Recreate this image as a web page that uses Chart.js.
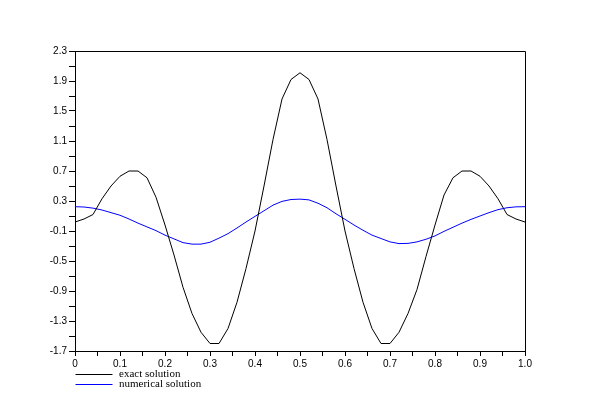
<!DOCTYPE html>
<html>
<head>
<meta charset="utf-8">
<script src="https://cdn.jsdelivr.net/npm/chart.js@4/dist/chart.umd.min.js"></script>
<style>
html,body{margin:0;padding:0;background:#fff;}
#wrap{width:600px;height:400px;}
</style>
</head>
<body>
<div id="wrap"><canvas id="c" width="600" height="400"></canvas></div>
<script>
const xValues = [0,0.02,0.04,0.06,0.08,0.10,0.12,0.14,0.16,0.18,0.20,0.22,0.24,0.26,0.28,0.30,0.32,0.34,0.36,0.38,0.40,0.42,0.44,0.46,0.48,0.50,
  0.52,0.54,0.56,0.58,0.60,0.62,0.64,0.66,0.68,0.70,0.72,0.74,0.76,0.78,0.80,0.82,0.84,0.86,0.88,0.90,0.92,0.94,0.96,0.98,1.00];
const exactValues = [0.02,0.06,0.12,0.33,0.50,0.63,0.70,0.70,0.61,0.35,-0.02,-0.42,-0.85,-1.20,-1.45,-1.60,-1.60,-1.40,-1.05,-0.60,-0.10,0.50,1.12,1.66,1.92,2.01,
  1.92,1.66,1.12,0.50,-0.10,-0.60,-1.05,-1.40,-1.60,-1.60,-1.45,-1.20,-0.88,-0.44,-0.02,0.38,0.61,0.70,0.70,0.63,0.50,0.33,0.12,0.06,0.02];
const numericalValues = [0.224,0.22,0.205,0.18,0.145,0.11,0.06,0.005,-0.045,-0.095,-0.155,-0.205,-0.255,-0.275,-0.275,-0.25,-0.195,-0.135,-0.06,0.02,0.095,0.17,0.245,0.295,0.32,0.325,
  0.315,0.27,0.21,0.13,0.056,-0.02,-0.09,-0.155,-0.20,-0.245,-0.268,-0.265,-0.245,-0.21,-0.165,-0.105,-0.05,0.005,0.055,0.10,0.145,0.185,0.21,0.222,0.224];
const seriesLabels = ['exact solution','numerical solution'];
const xTicks = [0,0.05,0.1,0.15,0.2,0.25,0.3,0.35,0.4,0.45,0.5,0.55,0.6,0.65,0.7,0.75,0.8,0.85,0.9,0.95,1.0];
const xTickLabels = ['0','','0.1','','0.2','','0.3','','0.4','','0.5','','0.6','','0.7','','0.8','','0.9','','1.0'];
const yTicks = [-1.7,-1.5,-1.3,-1.1,-0.9,-0.7,-0.5,-0.3,-0.1,0.1,0.3,0.5,0.7,0.9,1.1,1.3,1.5,1.7,1.9,2.1,2.3];
const yTickLabels = ['-1.7','','-1.3','','-0.9','','-0.5','','-0.1','','0.3','','0.7','','1.1','','1.5','','1.9','','2.3'];

const toPts = (xs, ys) => xs.map((x, i) => ({x: x, y: ys[i]}));

const framePlugin = {
  id: 'frame',
  afterDraw(chart) {
    const ctx = chart.ctx, a = chart.chartArea;
    ctx.save();
    ctx.strokeStyle = '#000';
    ctx.lineWidth = 1;
    ctx.beginPath();
    ctx.moveTo(Math.round(a.left) + 0.5, Math.round(a.top) + 0.5);
    ctx.lineTo(Math.round(a.right) + 0.5, Math.round(a.top) + 0.5);
    ctx.lineTo(Math.round(a.right) + 0.5, Math.round(a.bottom) + 0.5);
    ctx.stroke();
    // legend below the plot
    ctx.font = '11px "Liberation Serif"';
    ctx.textBaseline = 'middle';
    ctx.fillStyle = '#000';
    chart.data.datasets.forEach((ds, i) => {
      const y = Math.round(a.bottom) + 23.5 + i * 10;
      ctx.strokeStyle = ds.borderColor;
      ctx.beginPath();
      ctx.moveTo(Math.round(a.left) + 0.5, y);
      ctx.lineTo(Math.round(a.left) + 37.5, y);
      ctx.stroke();
      ctx.fillText(ds.label, Math.round(a.left) + 44, y);
    });
    ctx.restore();
  }
};

new Chart(document.getElementById('c'), {
  type: 'line',
  data: {
    datasets: [
      {label: seriesLabels[0], data: toPts(xValues, exactValues), borderColor: '#000000', borderWidth: 1, pointRadius: 0, tension: 0, fill: false},
      {label: seriesLabels[1], data: toPts(xValues, numericalValues), borderColor: '#0000ff', borderWidth: 1, pointRadius: 0, tension: 0, fill: false}
    ]
  },
  options: {
    responsive: false,
    animation: false,
    layout: {padding: {top: 51, right: 75, left: 0, bottom: 0}},
    plugins: {legend: {display: false}, tooltip: {enabled: false}},
    scales: {
      x: {
        type: 'linear', min: 0, max: 1,
        afterFit(s) { s.height = 49; },
        afterBuildTicks(s) { s.ticks = xTicks.map(v => ({value: v})); },
        grid: {display: true, drawOnChartArea: false, tickLength: 5, tickColor: '#000', color: '#000'},
        border: {display: true, color: '#000', width: 1},
        ticks: {
          autoSkip: false, maxRotation: 0, padding: 2, color: '#000',
          font: {family: '"Liberation Sans"', size: 10},
          callback: (v, i) => xTickLabels[i]
        }
      },
      y: {
        type: 'linear', min: -1.7, max: 2.3,
        afterFit(s) { s.width = 75; },
        afterBuildTicks(s) { s.ticks = yTicks.map(v => ({value: v})); },
        grid: {display: true, drawOnChartArea: false, tickLength: 6, tickColor: '#000', color: '#000'},
        border: {display: true, color: '#000', width: 1},
        ticks: {
          autoSkip: false, padding: 2, color: '#000',
          font: {family: '"Liberation Sans"', size: 10},
          callback: (v, i) => yTickLabels[i]
        }
      }
    }
  },
  plugins: [framePlugin]
});
</script>
</body>
</html>
